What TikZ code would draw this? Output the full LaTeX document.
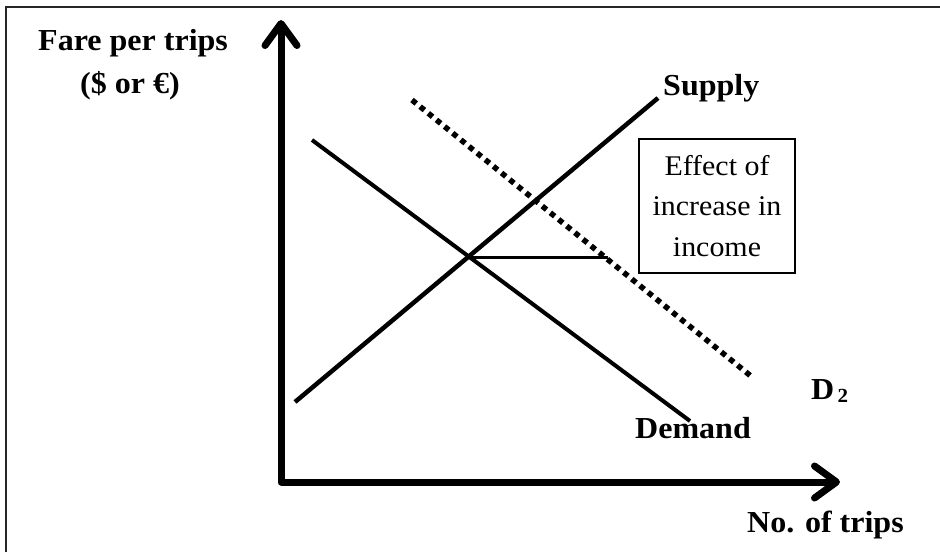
\documentclass[tikz,border=0pt]{standalone}
\usepackage{fontspec}
\setmainfont{Liberation Serif}[FakeStretch=1.05]
\usetikzlibrary{arrows.meta}
\tikzset{
  lbl/.style={inner sep=0pt, anchor=base west, font=\bfseries\fontsize{30.5}{36}\selectfont},
  axisline/.style={line width=7pt, line cap=round, line join=round,
    {Straight Barb[length=22pt,width=32pt,round]}-{Straight Barb[length=22pt,width=32pt,round]}},
  curve/.style={line width=4.5pt},
  shifted/.style={line width=5.5pt, dash pattern=on 5.5pt off 5pt},
  frameline/.style={line width=2pt, draw=black!85},
}
\begin{document}
\begin{tikzpicture}[x=1pt,y=-1pt]
\useasboundingbox (0,0) rectangle (940,552);
% frame
\coordinate (fbl) at (6,552);
\coordinate (ftl) at (6,7);
\coordinate (ftr) at (940,7);
\draw[frameline] (fbl) -- (ftl) -- (ftr);
% axes
\coordinate (O) at (281,482);
\coordinate (ytip) at (281,20);
\coordinate (xtip) at (840,482);
\draw[axisline] (ytip) -- (O) -- (xtip);
% supply
\coordinate (s1) at (295,402);
\coordinate (s2) at (658,98);
\draw[curve] (s1) -- (s2);
% demand
\coordinate (d1) at (312,140);
\coordinate (d2) at (690,421);
\draw[curve, line width=4pt] (d1) -- (d2);
% shifted demand
\coordinate (e1) at (412,100);
\coordinate (e2) at (752,377);
\draw[shifted] (e1) -- (e2);
% horizontal shift
\coordinate (eq) at (468.5,257.5);
\coordinate (eq2) at (608,257.5);
\draw[line width=3pt] (eq) -- (eq2);
% box
\node[draw, line width=2pt, minimum width=156pt, minimum height=134pt, inner sep=0pt,
  align=center, font=\fontsize{28.5}{40.5}\selectfont] (box) at (717,206)
  {Effect of\\increase in\\income};
% labels
\node[lbl] (yl1) at (38,50) {Fare per trips};
\node[lbl] (yl2) at (80,93) {(\$ or €)};
\node[lbl] (supl) at (663,95) {Supply};
\node[lbl] (deml) at (635,438) {Demand};
\node[lbl] (d2l) at (811,399) {D\raisebox{-3pt}{\fontsize{20}{20}\selectfont\,2}};
\node[lbl] (xl) at (747,532) {No. of trips};
\end{tikzpicture}
\end{document}
